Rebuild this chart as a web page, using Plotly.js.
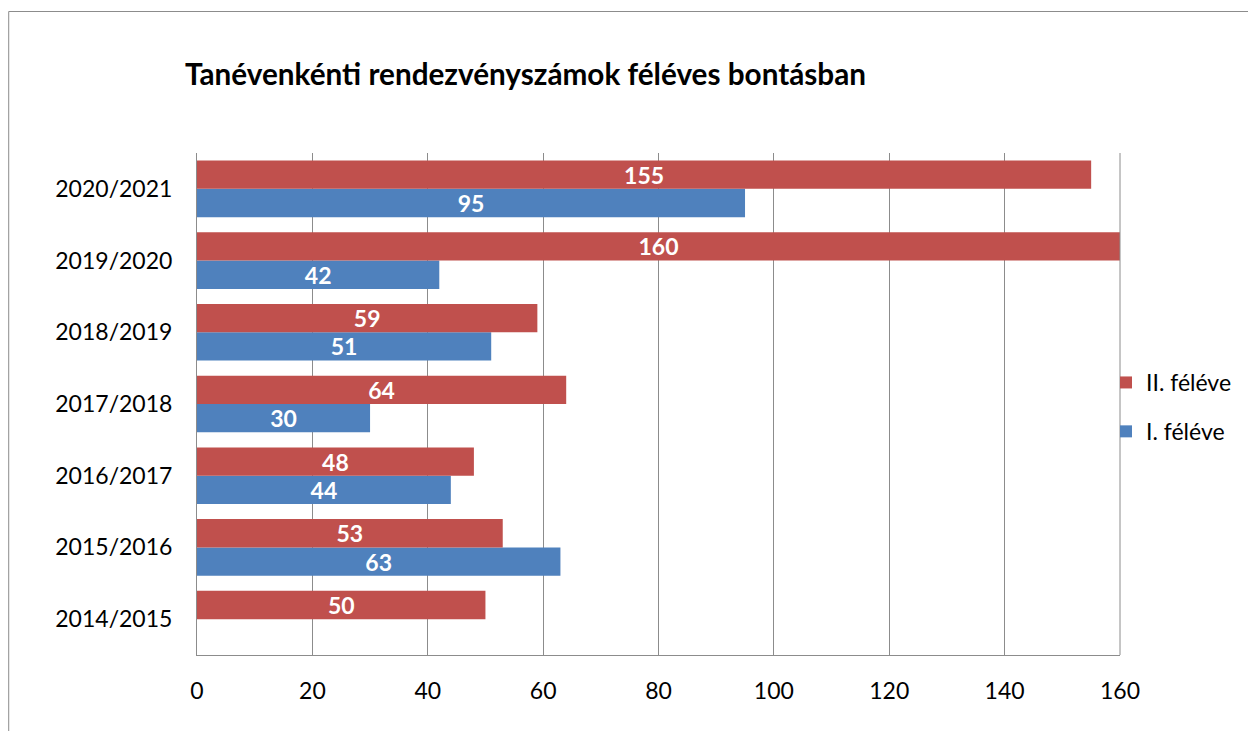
<!DOCTYPE html>
<html>
<head>
<meta charset="utf-8">
<script src="https://cdn.plot.ly/plotly-3.0.1.min.js"></script>
<style>html,body{margin:0;padding:0;background:#fff;}#chart{width:1248px;height:731px;}</style>
</head>
<body>
<div id="chart"></div>
<script>
const categories = ["2014/2015", "2015/2016", "2016/2017", "2017/2018", "2018/2019", "2019/2020", "2020/2021"];
const firstSemester = [null, 63, 44, 30, 51, 42, 95];
const secondSemester = [50, 53, 48, 64, 59, 160, 155];
const seriesNames = ["I. féléve", "II. féléve"];
const xTicks = [0, 20, 40, 60, 80, 100, 120, 140, 160];

const FONT = "Lato, 'Open Sans', sans-serif";
const labelFont = {family: FONT, size: 23, color: "#ffffff", weight: "bold"};

const traces = [
  {
    type: "bar", orientation: "h", name: seriesNames[0], legendgroup: "g1", legendrank: 2,
    y: categories, x: firstSemester,
    marker: {color: "#4f81bd"},
    text: firstSemester.map(v => v == null ? "" : String(v)),
    textposition: "inside", insidetextanchor: "middle", textangle: 0, constraintext: "none",
    textfont: labelFont, hoverinfo: "x+y", cliponaxis: false
  },
  {
    type: "bar", orientation: "h", name: seriesNames[1], legendgroup: "g2", legendrank: 1,
    y: categories, x: secondSemester,
    marker: {color: "#c0504d"},
    text: secondSemester.map(v => String(v)),
    textposition: "inside", insidetextanchor: "middle", textangle: 0, constraintext: "none",
    textfont: labelFont, hoverinfo: "x+y", cliponaxis: false
  }
];

const L = 197, R = 1121, T = 153, B = 655;
const px = v => (v - L) / (R - L);
const py = v => (B - v) / (B - T);

const layout = {
  width: 1248, height: 731,
  margin: {l: L, r: 1248 - R, t: T, b: 731 - B, pad: 0},
  paper_bgcolor: "#ffffff", plot_bgcolor: "#ffffff",
  font: {family: FONT, size: 23, color: "#000000"},
  title: {
    text: "Tanévenkénti rendezvényszámok féléves bontásban",
    font: {family: FONT, size: 29.7, color: "#000000", weight: "bold"},
    xref: "container", yref: "container",
    x: 185 / 1248, xanchor: "left",
    y: 1 - 75 / 731, yanchor: "middle"
  },
  barmode: "group", bargap: 0.21, bargroupgap: 0,
  showlegend: true,
  legend: {
    traceorder: "grouped",
    x: px(1106), xanchor: "left", y: py(407), yanchor: "middle",
    font: {family: FONT, size: 23, color: "#000000"},
    itemwidth: 30, tracegroupgap: 16, bgcolor: "rgba(0,0,0,0)", borderwidth: 0
  },
  xaxis: {
    range: [0, 160], tickvals: xTicks, ticktext: xTicks.map(String),
    showgrid: true, gridcolor: "#8c8c8c", gridwidth: 1,
    zeroline: false, showline: true, linecolor: "#8c8c8c", linewidth: 1,
    ticks: "", ticklabelstandoff: 15, fixedrange: true,
    tickfont: {family: FONT, size: 23, color: "#000000"}
  },
  yaxis: {
    type: "category", categoryorder: "array", categoryarray: categories,
    showgrid: false, zeroline: false,
    showline: true, linecolor: "#8c8c8c", linewidth: 1,
    ticks: "", ticklabelstandoff: 19, fixedrange: true,
    tickfont: {family: FONT, size: 23, color: "#000000"}
  },
  shapes: [
    {type: "line", xref: "paper", yref: "paper", x0: px(8.5), x1: px(8.5), y0: py(11.5), y1: py(740), line: {color: "#8c8c8c", width: 1}},
    {type: "line", xref: "paper", yref: "paper", x0: px(8.5), x1: px(1260), y0: py(11.5), y1: py(11.5), line: {color: "#8c8c8c", width: 1}},
    {type: "line", xref: "paper", yref: "paper", x0: 1, x1: 1, y0: 0, y1: 1, line: {color: "#8c8c8c", width: 1}}
  ]
};

Plotly.newPlot("chart", traces, layout, {displayModeBar: false, staticPlot: true});
</script>
</body>
</html>
